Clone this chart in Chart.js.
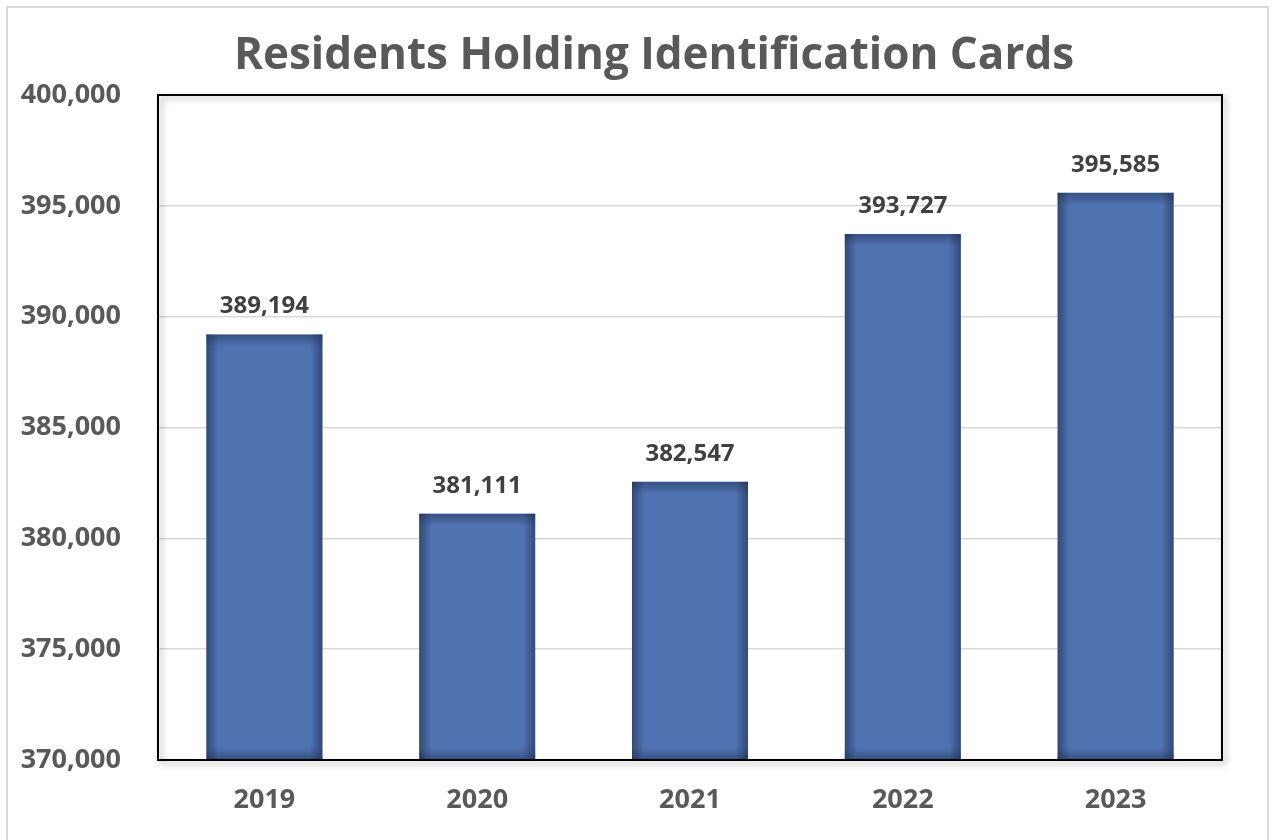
<!DOCTYPE html>
<html><head><meta charset="utf-8">
<script src="https://cdn.jsdelivr.net/npm/chart.js@4.4.1/dist/chart.umd.min.js"></script>
<style>html,body{margin:0;padding:0;background:#fff;}#wrap{width:1278px;height:840px;position:relative;}</style>
</head><body><div id="wrap"><canvas id="c" width="1278" height="840"></canvas></div>
<script>
const categories = ['2019','2020','2021','2022','2023'];
const residents = [389194, 381111, 382547, 393727, 395585];
const yTicks = [370000, 375000, 380000, 385000, 390000, 395000, 400000];
const titleText = 'Residents Holding Identification Cards';

const fmt = v => v.toLocaleString('en-US');

const framePlugin = {
  id: 'frame',
  beforeDraw(chart) {
    const ctx = chart.ctx;
    ctx.save();
    ctx.strokeStyle = '#d9d9d9';
    ctx.lineWidth = 2;
    ctx.strokeRect(7, 7, 1261, 850);
    ctx.font = 'bold 44px "Open Sans"';
    ctx.fillStyle = '#595959';
    ctx.textAlign = 'center';
    ctx.textBaseline = 'alphabetic';
    ctx.fillText(titleText, 654, 69);
    ctx.restore();
  },
  afterDatasetsDraw(chart) {
    const ctx = chart.ctx;
    const a = chart.chartArea;
    const meta = chart.getDatasetMeta(0);
    meta.data.forEach(bar => {
      const l = bar.x - bar.width / 2, r = bar.x + bar.width / 2, t = bar.y, b = Math.min(bar.base, a.bottom);
      const e = 12;
      ctx.save();
      let g = ctx.createLinearGradient(l, 0, l + e, 0);
      g.addColorStop(0, 'rgba(25,40,75,0.55)'); g.addColorStop(1, 'rgba(25,40,75,0)');
      ctx.fillStyle = g; ctx.fillRect(l, t, e, b - t);
      g = ctx.createLinearGradient(r, 0, r - e, 0);
      g.addColorStop(0, 'rgba(25,40,75,0.55)'); g.addColorStop(1, 'rgba(25,40,75,0)');
      ctx.fillStyle = g; ctx.fillRect(r - e, t, e, b - t);
      g = ctx.createLinearGradient(0, t, 0, t + e);
      g.addColorStop(0, 'rgba(25,40,75,0.45)'); g.addColorStop(1, 'rgba(25,40,75,0)');
      ctx.fillStyle = g; ctx.fillRect(l, t, r - l, e);
      g = ctx.createLinearGradient(0, b, 0, b - e);
      g.addColorStop(0, 'rgba(25,40,75,0.45)'); g.addColorStop(1, 'rgba(25,40,75,0)');
      ctx.fillStyle = g; ctx.fillRect(l, b - e, r - l, e);
      ctx.restore();
    });
    ctx.save();
    ctx.shadowColor = 'rgba(0,0,0,0.35)';
    ctx.shadowBlur = 6;
    ctx.shadowOffsetX = 3;
    ctx.shadowOffsetY = 3;
    ctx.strokeStyle = '#000';
    ctx.lineWidth = 2;
    ctx.strokeRect(a.left, a.top, a.right - a.left, a.bottom - a.top);
    ctx.restore();
    ctx.save();
    ctx.font = 'bold 24px "Open Sans"';
    ctx.fillStyle = '#404040';
    ctx.textAlign = 'center';
    ctx.textBaseline = 'middle';
    meta.data.forEach((bar, i) => {
      ctx.fillText(fmt(residents[i]), bar.x, bar.y - 28);
    });
    ctx.restore();
  }
};

new Chart(document.getElementById('c'), {
  type: 'bar',
  data: {
    labels: categories,
    datasets: [{
      data: residents,
      backgroundColor: '#4F72B0',
      borderWidth: 0,
      categoryPercentage: 1,
      barPercentage: 0.545
    }]
  },
  options: {
    responsive: false,
    animation: false,
    layout: { padding: { left: 0, right: 56, top: 95, bottom: 0 } },
    plugins: {
      legend: { display: false },
      tooltip: { enabled: false },
      title: { display: false }
    },
    scales: {
      y: {
        min: 370000, max: 400000,
        afterBuildTicks: s => { s.ticks = yTicks.map(v => ({ value: v })); },
        afterFit: s => { s.width = 158; },
        ticks: {
          callback: v => fmt(v),
          color: '#595959',
          font: { family: 'Open Sans', size: 27, weight: 'bold' },
          padding: 37
        },
        grid: { color: '#d9d9d9', lineWidth: 1.5, drawTicks: false },
        border: { display: false }
      },
      x: {
        afterFit: s => { s.height = 80; },
        ticks: {
          color: '#595959',
          font: { family: 'Open Sans', size: 27, weight: 'bold' },
          padding: 24
        },
        grid: { display: false, drawTicks: false },
        border: { display: false }
      }
    }
  },
  plugins: [framePlugin]
});
</script></body></html>
